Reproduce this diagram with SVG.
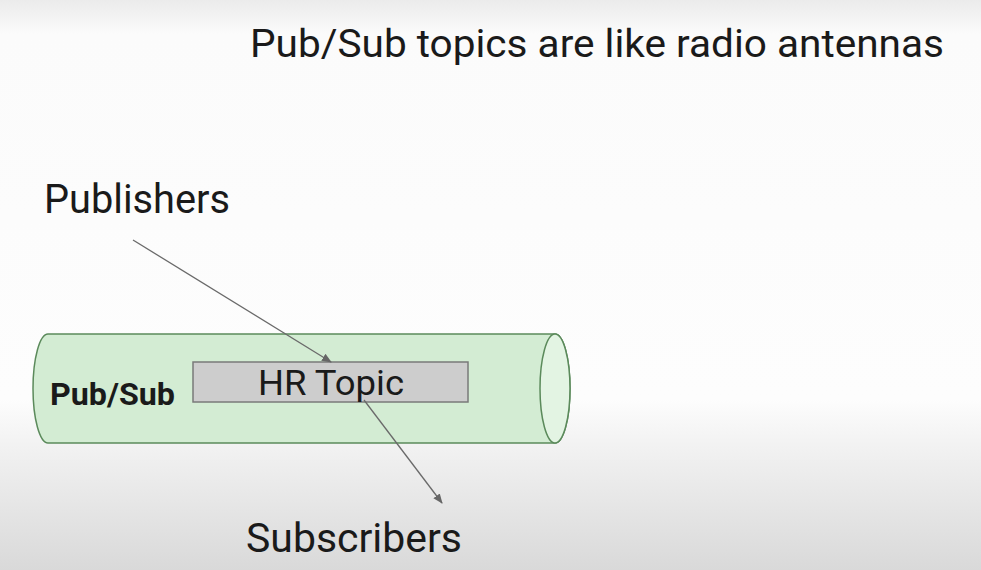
<svg xmlns="http://www.w3.org/2000/svg" width="981" height="570" viewBox="0 0 981 570">
  <defs>
    <linearGradient id="bg" x1="0" y1="0" x2="0" y2="1">
      <stop offset="0" stop-color="#ebebeb"/>
      <stop offset="0.06" stop-color="#fbfbfb"/>
      <stop offset="0.7" stop-color="#fdfdfd"/>
      <stop offset="0.78" stop-color="#f2f2f2"/>
      <stop offset="1" stop-color="#d9d9d9"/>
    </linearGradient>
    <marker id="arrow" viewBox="0 0 10 10" refX="9" refY="5" markerWidth="10" markerHeight="10" markerUnits="userSpaceOnUse" orient="auto">
      <path d="M0,1 L10,5 L0,9 z" fill="#666"/>
    </marker>
    <style>
      .label { font-family: Roboto, "Liberation Sans", sans-serif; fill: #1a1a1a; }
      .conn { stroke: #6a6a6a; stroke-width: 1.3; fill: none; marker-end: url(#arrow); }
    </style>
  </defs>

  <rect width="981" height="570" fill="url(#bg)"/>

  <text class="label" x="250" y="57" font-size="38" textLength="694" lengthAdjust="spacingAndGlyphs">Pub/Sub topics are like radio antennas</text>

  <g id="publishers">
    <text class="label" x="44" y="213" font-size="40" textLength="186" lengthAdjust="spacingAndGlyphs">Publishers</text>
  </g>

  <g id="pubsub">
    <path d="M48,334 L555,334 A15,54.5 0 0 1 555,443 L48,443 A15,54.5 0 0 1 48,334 Z" fill="#d3ecd3" stroke="#5b8a5b" stroke-width="1.5"/>
    <ellipse cx="555" cy="388.5" rx="15" ry="54.5" fill="#e3f4e3" stroke="#5b8a5b" stroke-width="1.5"/>
    <text class="label" x="50" y="405" font-size="31" font-weight="bold" fill="#111" textLength="125" lengthAdjust="spacingAndGlyphs">Pub/Sub</text>
  </g>

  <g id="hr-topic">
    <rect x="193" y="362" width="275" height="40" fill="#cdcdcd" stroke="#7a7a7a" stroke-width="1.5"/>
    <text class="label" x="258" y="395" font-size="35" textLength="146" lengthAdjust="spacingAndGlyphs">HR Topic</text>
  </g>

  <g id="subscribers">
    <text class="label" x="246" y="552" font-size="40" textLength="216" lengthAdjust="spacingAndGlyphs">Subscribers</text>
  </g>

  <g id="connectors">
    <line class="conn" x1="133" y1="240" x2="331" y2="362"/>
    <line class="conn" x1="364" y1="400" x2="442" y2="503"/>
  </g>
</svg>
